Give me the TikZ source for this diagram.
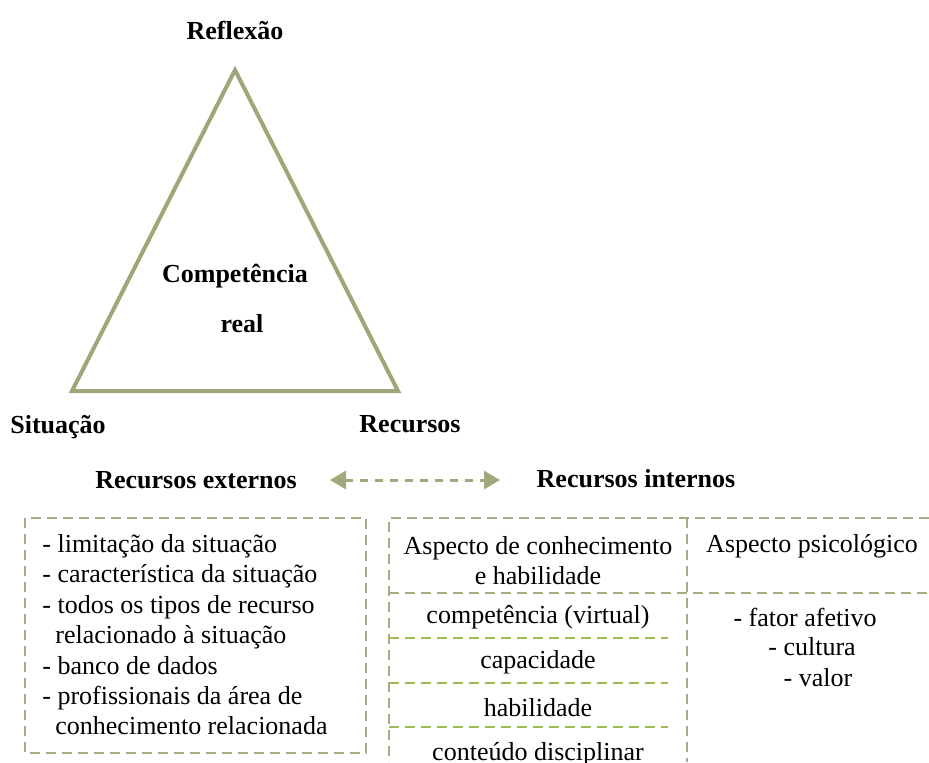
\documentclass[tikz,border=0pt]{standalone}
\usepackage{fontspec}
\setmainfont{Liberation Serif}
\usetikzlibrary{arrows.meta}
\definecolor{TriLine}{RGB}{158,166,122}
\definecolor{ArrLine}{RGB}{160,168,125}
\definecolor{BoxLine}{RGB}{168,170,128}
\definecolor{RowLine}{RGB}{155,187,89}

\begin{document}
\begin{tikzpicture}[
            x=0.5pt, y=-0.5pt,
            every node/.style={font=\fontsize{13}{15}\selectfont, inner sep=0pt},
            head/.style={font=\fontsize{13}{15}\selectfont\bfseries},
            cell/.style={align=center},
            frame/.style={draw=BoxLine, dashed, dash pattern=on 5pt off 3pt, line width=0.6pt},
            row/.style={draw=RowLine, dash pattern=on 5pt off 3pt, line width=0.6pt},
            darr/.style={{Triangle[length=8pt,width=9pt]}-{Triangle[length=8pt,width=9pt]}, draw=ArrLine, fill=ArrLine, dash pattern=on 4pt off 3.5pt, line width=1.5pt}
        ]
            \useasboundingbox (0,0) rectangle (929,762);
            % triangle
            \coordinate (top) at (235,70);
            \coordinate (bl)  at (72,391);
            \coordinate (br)  at (398,391);
            \draw[TriLine, line width=2pt, line join=miter] (top) -- (br) -- (bl) -- cycle;
            \node[head] (refl) at (235,30)  {Reflexão};
            \node[head] (comp) at (235,276) {Competência};
            \node[head] (real) at (242,324) {real};
            \node[head] (sit)  at (58,427)  {Situação};
            \node[head] (rec)  at (410,424) {Recursos};
            % resources
            \node[head] (recext) at (196,480) {Recursos externos};
            \node[head] (recint) at (636,479) {Recursos internos};
            \coordinate (al) at (330,480);
            \coordinate (ar) at (500,480);
            \draw[darr] (al) -- (ar);
            % external box
            \draw[frame] (25,518) rectangle (366,753);
            \node[align=left, anchor=north west, font=\fontsize{13}{15.2}\selectfont] (extlist) at (42,534)
                {- limitação da situação\\
                 - característica da situação\\
                 - todos os tipos de recurso\\
                 \hspace*{6.5pt}relacionado à situação\\
                 - banco de dados\\
                 - profissionais da área de\\
                 \hspace*{6.5pt}conhecimento relacionada};
            % internal table
            \draw[frame] (929,518) -- (389,518) -- (389,762);
            \draw[frame] (687,518) -- (687,762);
            \draw[frame] (389,593) -- (929,593);
            \foreach \yy in {638,683,727}
                \draw[row] (389,\yy) -- (668,\yy);
            \node[cell] (aspc) at (538,561) {Aspecto de conhecimento\\e habilidade};
            \node[cell] (asps) at (812,546) {Aspecto psicológico};
            \node[cell] (cvirt) at (538,617) {competência (virtual)};
            \node[cell] (capac) at (538,662) {capacidade};
            \node[cell] (habil) at (538,708) {habilidade};
            \node[cell] (cdisc) at (538,754) {conteúdo disciplinar};
            \node (fat) at (805,617) {- fator afetivo};
            \node (cult) at (812,647) {- cultura};
            \node (val) at (818,678) {- valor};
        \end{tikzpicture}
\end{document}
